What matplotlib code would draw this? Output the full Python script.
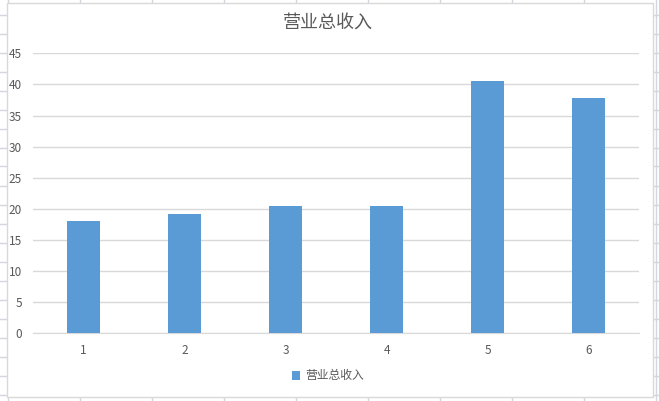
import matplotlib
matplotlib.use('Agg')
import matplotlib.pyplot as plt
from matplotlib.lines import Line2D
from matplotlib.patches import Rectangle

plt.rcParams['font.family'] = ['Noto Sans CJK SC', 'DejaVu Sans']

# 数据
categories = ['1', '2', '3', '4', '5', '6']
revenue = [18.1, 19.2, 20.4, 20.5, 40.5, 37.8]
yticks = [0, 5, 10, 15, 20, 25, 30, 35, 40, 45]
title = '营业总收入'
series_name = '营业总收入'

W, H = 659, 401
bar_color = '#5B9BD5'
text_color = '#595959'
grid_color = '#D9D9D9'
sheet_color = '#D2D6DE'

fig = plt.figure(figsize=(W / 100, H / 100), dpi=100)
fig.patch.set_facecolor('white')

def fx(x):
    return x / W

def fy(y):
    return 1 - y / H

# 背景表格线
for x in [7.5, 79.5, 151.5, 223.5, 295.5, 367.5, 439.5, 511.5, 583.5, 655.5]:
    fig.add_artist(Line2D([fx(x), fx(x)], [0, 1], transform=fig.transFigure,
                          color=sheet_color, lw=1, zorder=0))
for k in range(21):
    y = 14.5 + 19 * k
    fig.add_artist(Line2D([0, 1], [fy(y), fy(y)], transform=fig.transFigure,
                          color=sheet_color, lw=1, zorder=0))

# 图表区
fig.add_artist(Rectangle((fx(7), fy(397)), fx(653) - fx(7), fy(3) - fy(397),
                         transform=fig.transFigure, facecolor='white',
                         edgecolor=grid_color, lw=1, zorder=1))

ax = fig.add_axes([fx(33), fy(333.3), fx(639) - fx(33), fy(53.3) - fy(333.3)])
ax.set_zorder(2)
ax.patch.set_alpha(0)

x = range(len(categories))
bars = ax.bar(x, revenue, width=0.317, color=bar_color, zorder=3, label=series_name)

ax.set_xlim(-0.5, len(categories) - 0.5)
ax.set_ylim(0, 45)
ax.set_yticks(yticks)
ax.set_xticks(list(x))
ax.set_xticklabels(categories)
ax.yaxis.grid(True, color=grid_color, lw=1)
ax.set_axisbelow(True)
for s in ['top', 'right', 'left']:
    ax.spines[s].set_visible(False)
ax.spines['bottom'].set_color(grid_color)
ax.tick_params(axis='both', length=0, labelsize=8.5, labelcolor=text_color)
ax.tick_params(axis='y', pad=8)
ax.tick_params(axis='x', pad=8)

fig.text(fx(328), fy(23), title, ha='center', va='center', fontsize=13, color=text_color)

ax.legend(loc='center', bbox_to_anchor=(fx(328), fy(376)), bbox_transform=fig.transFigure,
          frameon=False, fontsize=8.5, labelcolor=text_color, handlelength=0.7,
          handleheight=0.7, handletextpad=0.4)

fig.savefig('out.png', dpi=100)
